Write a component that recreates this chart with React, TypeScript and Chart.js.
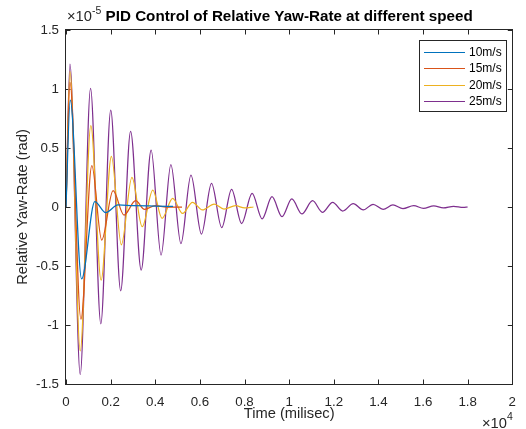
import React, { useEffect, useRef } from 'react';
import { Chart, registerables } from 'chart.js';

Chart.register(...registerables);

// Time in milliseconds, values in units of 1e-5 rad
const t10 = [0, 190, 700, 1290, 1780, 2330, 3000, 4000, 4800];
const v10 = [0, 0.906, -0.61, 0.045, -0.048, 0.017, 0.012, 0.008, 0.005];

const t15 = [0, 178, 668, 1158, 1600, 2110, 2600, 3120, 3520, 4000, 4500, 5200];
const v15 = [0, 1.057, -0.95, 0.35, -0.28, 0.138, -0.068, 0.053, -0.02, 0.011, 0.0, 0.0];

const t20 = [0, 178, 637, 1113, 1573, 2035, 2480, 2955, 3415, 3890, 4305, 4780, 5225, 5670, 6115, 6640, 7080, 7600, 8000, 8400];
const v20 = [0, 1.15, -1.22, 0.69, -0.62, 0.43, -0.32, 0.25, -0.167, 0.144, -0.096, 0.073, -0.054, 0.04, -0.025, 0.025, -0.017, 0.011, -0.008, 0.0];

const t25 = [0, 178, 637, 1100, 1560, 2005, 2450, 2895, 3370, 3815, 4260, 4700, 5150, 5600, 6070, 6520, 6980, 7420, 7870, 8340, 8790, 9230, 9680, 10120, 10570, 11050, 11490, 11950, 12400, 12870, 13320, 13760, 14210, 14650, 15100, 15580, 16020, 16480, 16910, 17370, 17800, 18000];
const v25 = [0, 1.21, -1.42, 1.006, -0.99, 0.82, -0.71, 0.64, -0.534, 0.483, -0.407, 0.36, -0.31, 0.27, -0.23, 0.2, -0.175, 0.15, -0.14, 0.116, -0.1, 0.087, -0.082, 0.068, -0.059, 0.053, -0.045, 0.04, -0.034, 0.028, -0.025, 0.023, -0.02, 0.017, -0.014, 0.011, -0.011, 0.01, -0.008, 0.006, -0.004, 0];

const seriesLabels = ['10m/s', '15m/s', '20m/s', '25m/s'];
const seriesColors = ['#0072BD', '#D95319', '#EDB120', '#7E2F8E'];

const titleText = 'PID Control of Relative Yaw-Rate at different speed';
const xTitle = 'Time (milisec)';
const yTitle = 'Relative Yaw-Rate (rad)';

const FONT = '"Liberation Sans", Arial, Helvetica, sans-serif';
const AXC = '#262626';

const toPts = (t: number[], v: number[]) => t.map((x, i) => ({ x, y: v[i] }));

const matlabPlugin = {
  id: 'matlabDecor',
  beforeDatasetsDraw(chart: any) {
    const { ctx, chartArea: a, scales } = chart;
    ctx.save();
    ctx.strokeStyle = AXC;
    ctx.lineWidth = 1;
    const tl = 4.5;
    ctx.beginPath();
    scales.x.ticks.forEach((tk: any) => {
      const px = Math.round(scales.x.getPixelForValue(tk.value)) + 0.5;
      ctx.moveTo(px, a.bottom);
      ctx.lineTo(px, a.bottom - tl);
      ctx.moveTo(px, a.top);
      ctx.lineTo(px, a.top + tl);
    });
    scales.y.ticks.forEach((tk: any) => {
      const py = Math.round(scales.y.getPixelForValue(tk.value)) + 0.5;
      ctx.moveTo(a.left, py);
      ctx.lineTo(a.left + tl, py);
      ctx.moveTo(a.right, py);
      ctx.lineTo(a.right - tl, py);
    });
    ctx.stroke();
    ctx.restore();
  },
  afterDraw(chart: any) {
    const { ctx, chartArea: a } = chart;
    ctx.save();
    // box
    ctx.strokeStyle = AXC;
    ctx.lineWidth = 1;
    ctx.strokeRect(Math.round(a.left) - 0.5, Math.round(a.top) - 0.5, Math.round(a.right - a.left) + 1, Math.round(a.bottom - a.top) + 1);

    // title
    ctx.fillStyle = '#000';
    ctx.font = `bold 15.2px ${FONT}`;
    ctx.textAlign = 'center';
    ctx.textBaseline = 'alphabetic';
    ctx.fillText(titleText, (a.left + a.right) / 2, 21);

    // exponent labels
    ctx.fillStyle = AXC;
    ctx.textAlign = 'left';
    ctx.font = `14.7px ${FONT}`;
    ctx.fillText('\u00d710', a.left + 1, 21);
    const w1 = ctx.measureText('\u00d710').width;
    ctx.font = `10.5px ${FONT}`;
    ctx.fillText('-5', a.left + 1 + w1, 14);

    ctx.font = `14.7px ${FONT}`;
    ctx.fillText('\u00d710', 482, 428);
    const w2 = ctx.measureText('\u00d710').width;
    ctx.font = `10.5px ${FONT}`;
    ctx.fillText('4', 482 + w2, 420);

    // axis titles
    ctx.font = `14.7px ${FONT}`;
    ctx.textAlign = 'center';
    ctx.textBaseline = 'middle';
    ctx.fillText(xTitle, (a.left + a.right) / 2, 414);
    ctx.save();
    ctx.translate(23, (a.top + a.bottom) / 2);
    ctx.rotate(-Math.PI / 2);
    ctx.fillText(yTitle, 0, 0);
    ctx.restore();

    // legend
    const lx = 419.5, ly = 40.5, lw = 87, lh = 71;
    ctx.fillStyle = '#fff';
    ctx.fillRect(lx, ly, lw, lh);
    ctx.strokeStyle = AXC;
    ctx.strokeRect(lx, ly, lw, lh);
    ctx.font = `12px ${FONT}`;
    ctx.textAlign = 'left';
    ctx.textBaseline = 'middle';
    seriesLabels.forEach((lab, i) => {
      const y = 52 + i * 16.4;
      ctx.strokeStyle = seriesColors[i];
      ctx.lineWidth = 1.2;
      ctx.beginPath();
      ctx.moveTo(424, Math.round(y) + 0.5);
      ctx.lineTo(465, Math.round(y) + 0.5);
      ctx.stroke();
      ctx.fillStyle = '#000';
      ctx.fillText(lab, 469, y + 0.5);
    });
    ctx.restore();
  },
};

export default function App() {
  const ref = useRef<HTMLCanvasElement | null>(null);
  useEffect(() => {
    if (!ref.current) return;
    const series = [toPts(t10, v10), toPts(t15, v15), toPts(t20, v20), toPts(t25, v25)];
    const chart = new Chart(ref.current, {
      type: 'line',
      data: {
        datasets: series.map((d, i) => ({
          label: seriesLabels[i],
          data: d,
          borderColor: seriesColors[i],
          backgroundColor: seriesColors[i],
          borderWidth: 1.25,
          pointRadius: 0,
          fill: false,
          cubicInterpolationMode: 'monotone' as const,
        })),
      },
      options: {
        responsive: false,
        animation: false,
        events: [],
        layout: { padding: { top: 30, right: 11, left: 0, bottom: 0 } },
        plugins: { legend: { display: false }, title: { display: false }, tooltip: { enabled: false } },
        scales: {
          x: {
            type: 'linear',
            min: 0,
            max: 20000,
            grid: { display: false, drawTicks: false },
            border: { display: false },
            afterFit: (s: any) => { s.height = 45; },
            ticks: {
              stepSize: 2000,
              autoSkip: false,
              maxRotation: 0,
              padding: 10,
              color: AXC,
              font: { family: FONT, size: 13.3 },
              callback: (v: any) => String(Math.round((Number(v) / 10000) * 10) / 10),
            },
          },
          y: {
            type: 'linear',
            min: -1.5,
            max: 1.5,
            grid: { display: false, drawTicks: false },
            border: { display: false },
            afterFit: (s: any) => { s.width = 66; },
            ticks: {
              stepSize: 0.5,
              autoSkip: false,
              padding: 7,
              color: AXC,
              font: { family: FONT, size: 13.3 },
              callback: (v: any) => String(Math.round(Number(v) * 10) / 10),
            },
          },
        },
      },
      plugins: [matlabPlugin],
    } as any);
    return () => chart.destroy();
  }, []);
  return (
    <div style={{ position: 'absolute', left: 0, top: 0, width: 526, height: 429, background: '#fff' }}>
      <canvas ref={ref} width={526} height={429} />
    </div>
  );
}
